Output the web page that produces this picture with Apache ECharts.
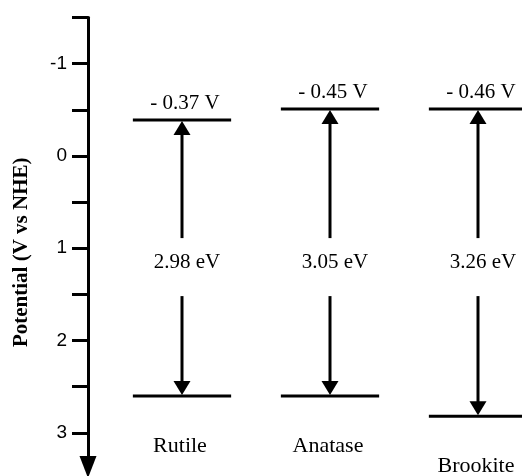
<!DOCTYPE html>
<html><head><meta charset="utf-8">
<script src="https://cdn.jsdelivr.net/npm/echarts@6/dist/echarts.min.js"></script>
<style>html,body{margin:0;padding:0;background:#fff}#c{width:522px;height:476px}</style>
</head><body><div id="c"></div>
<script>
// Data
const categories = ['Rutile', 'Anatase', 'Brookite'];
const cbPotential = [-0.39, -0.51, -0.51];   // conduction band edge as drawn (V vs NHE)
const vbPotential = [2.60, 2.60, 2.82];      // valence band edge as drawn (V vs NHE)
const cbLabels = ['- 0.37 V', '- 0.45 V', '- 0.46 V'];
const gapLabels = ['2.98 eV', '3.05 eV', '3.26 eV'];
const yTickValues = [-1.5, -1, -0.5, 0, 0.5, 1, 1.5, 2, 2.5, 3];
const yLabelValues = [-1, 0, 1, 2, 3];

const GAP_LABEL_POT = 1.15;
const SERIF = '"Liberation Serif", "Times New Roman", serif';

const chart = echarts.init(document.getElementById('c'), null, {renderer: 'canvas'});

function renderItem(params, api) {
  const i = api.value(0);
  const cb = api.coord([i, api.value(1)]);
  const vb = api.coord([i, api.value(2)]);
  const bw = api.size([1, 0])[0];
  const hw = bw * 0.332;
  const x = cb[0];
  const gy = api.coord([i, GAP_LABEL_POT])[1];
  const hh = 14, hwid = 8.5;
  const blk = {stroke: '#000', lineWidth: 3};
  return {
    type: 'group',
    children: [
      {type: 'line', shape: {x1: x - hw, y1: cb[1], x2: x + hw, y2: cb[1]}, style: blk},
      {type: 'line', shape: {x1: x - hw, y1: vb[1], x2: x + hw, y2: vb[1]}, style: blk},
      {type: 'polygon', shape: {points: [[x, cb[1] + 1], [x - hwid, cb[1] + 1 + hh], [x + hwid, cb[1] + 1 + hh]]}, style: {fill: '#000'}},
      {type: 'line', shape: {x1: x, y1: cb[1] + hh, x2: x, y2: gy - 24}, style: blk},
      {type: 'line', shape: {x1: x, y1: gy + 34, x2: x, y2: vb[1] - hh}, style: blk},
      {type: 'polygon', shape: {points: [[x, vb[1] - 1], [x - hwid, vb[1] - 1 - hh], [x + hwid, vb[1] - 1 - hh]]}, style: {fill: '#000'}},
      {type: 'text', x: x + 3, y: cb[1] - 16, style: {text: cbLabels[i], fill: '#000', font: '21px ' + SERIF, align: 'center', verticalAlign: 'middle'}},
      {type: 'text', x: x + 5, y: gy, style: {text: gapLabels[i], fill: '#000', font: '21px ' + SERIF, align: 'center', verticalAlign: 'middle'}},
      {type: 'text', x: x - 2, y: vb[1] + 50, style: {text: categories[i], fill: '#000', font: '22px ' + SERIF, align: 'center', verticalAlign: 'middle'}}
    ]
  };
}

chart.setOption({
  animation: false,
  backgroundColor: '#fff',
  grid: {left: 108, right: -30, top: 17.5, bottom: 9, containLabel: false, outerBoundsMode: 'none'},
  xAxis: {type: 'category', data: categories, show: false, boundaryGap: true},
  yAxis: {
    type: 'value', inverse: true, min: -1.5, max: 3.37, offset: 20,
    axisLine: {show: true, onZero: false, lineStyle: {color: '#000', width: 3}, symbol: ['triangle', 'none'], symbolSize: [17, 22]},
    axisTick: {show: true, inside: false, length: 16, lineStyle: {color: '#000', width: 3}, customValues: yTickValues},
    axisLabel: {customValues: yLabelValues, formatter: v => String(v), color: '#000', fontFamily: '"Liberation Sans", Arial, sans-serif', fontSize: 19, margin: 21},
    splitLine: {show: false},
    name: 'Potential (V vs NHE)', nameLocation: 'middle', nameGap: 56,
    nameTextStyle: {fontFamily: SERIF, fontWeight: 'bold', fontSize: 21, color: '#000', padding: [0, 20, 0, 0]}
  },
  series: [{
    type: 'custom',
    renderItem: renderItem,
    clip: false,
    encode: {x: 0, y: [1, 2]},
    data: categories.map((c, i) => [i, cbPotential[i], vbPotential[i]])
  }]
});
</script></body></html>
